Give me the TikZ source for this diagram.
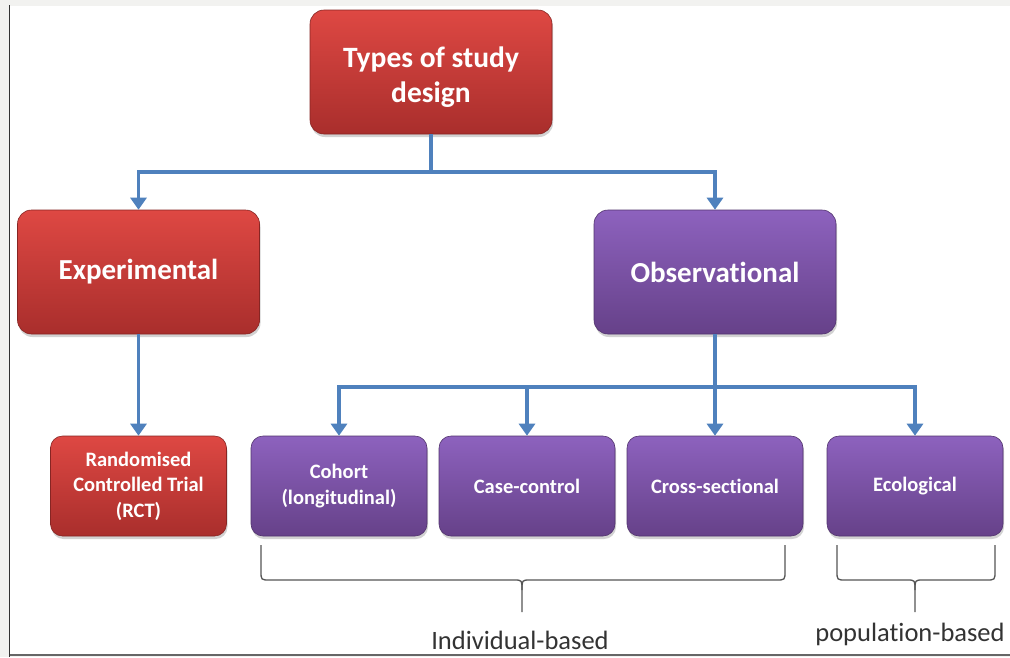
\documentclass[tikz,border=0pt]{standalone}
\usepackage{fontspec}
\setmainfont{Carlito}[Ligatures=NoCommon]
\usetikzlibrary{arrows.meta,shadows}
\definecolor{bgray}{HTML}{F2F2F0}
\definecolor{redtop}{HTML}{DE4843}
\definecolor{redbot}{HTML}{A92E2C}
\definecolor{purtop}{HTML}{8D62BE}
\definecolor{purbot}{HTML}{664189}
\definecolor{conn}{HTML}{4F81BD}
\definecolor{brace}{HTML}{555555}
\tikzset{
  box/.style={rounded corners=14pt, text=white, font=\bfseries, align=center, inner sep=2pt,
    drop shadow={opacity=0.35, shadow xshift=1pt, shadow yshift=-3pt}},
  redbox/.style={box, top color=redtop, bottom color=redbot, draw=redbot!80!black, line width=0.6pt},
  purbox/.style={box, top color=purtop, bottom color=purbot, draw=purbot!80!black, line width=0.6pt},
  bigbox/.style={minimum width=242pt, minimum height=124pt},
  smallbox/.style={minimum width=176pt, minimum height=100pt, rounded corners=12pt},
  smalltext/.style={font=\bfseries\fontsize{20.5}{25.5}\selectfont},
  line/.style={conn, line width=3.5pt},
  arr/.style={line, -{Triangle[length=12pt,width=16pt]}},
  bracestyle/.style={brace, line width=1.3pt},
  lab/.style={font=\fontsize{26.5}{30}\selectfont, text=black!80}
}
\begin{document}
\begin{tikzpicture}[x=1pt,y=-1pt]
\useasboundingbox (0,0) rectangle (1010,657);
\fill[bgray] (0,0) rectangle (1010,657);
\fill[white] (10,6) rectangle (1010,654);
\draw[black!80, line width=1.6pt] (9.5,5) -- (9.5,657);
\draw[black!60, line width=2pt] (10,655) -- (1010,655);

\node[redbox, bigbox, font=\bfseries\fontsize{29.5}{35}\selectfont] (top) at (431,72) {\rule{0pt}{30pt}Types of study\\design};
\node[redbox, bigbox, font=\bfseries\fontsize{29}{34}\selectfont] (exp) at (138.5,272) {Experimental};
\node[purbox, bigbox, font=\bfseries\fontsize{29}{34}\selectfont] (obs) at (715,272) {Observational};

\node[redbox, smallbox, smalltext] (rct) at (138.5,486) {Randomised\\Controlled Trial\\(RCT)};
\node[purbox, smallbox, smalltext] (coh) at (339,486) {Cohort\\(longitudinal)};
\node[purbox, smallbox, smalltext] (cc) at (527,486) {Case-control};
\node[purbox, smallbox, smalltext] (cs) at (715,486) {Cross-sectional};
\node[purbox, smallbox, smalltext] (eco) at (915,486) {Ecological};

\coordinate (j1) at (431,172);
\coordinate (j2) at (715,387);
\draw[line] (top.south) -- (j1);
\draw[arr] (j1) -| (exp.north);
\draw[arr] (j1) -| (obs.north);
\draw[arr] (exp.south) -- (rct.north);
\draw[arr] (obs.south) -- (cs.north);
\draw[arr] (j2) -| (coh.north);
\draw[arr] (j2) -| (cc.north);
\draw[arr] (j2) -| (eco.north);

% braces
\coordinate (b1l) at (261,545);
\coordinate (b1r) at (785,545);
\coordinate (b1t) at (522,612);
\draw[bracestyle] (b1l) -- (261,571) .. controls (261,580) .. (270,580) -- (514,580) .. controls (522,580) .. (522,590) -- (b1t);
\draw[bracestyle] (b1r) -- (785,571) .. controls (785,580) .. (776,580) -- (530,580) .. controls (522,580) .. (522,590);
\coordinate (b2l) at (837,545);
\coordinate (b2r) at (995,545);
\coordinate (b2t) at (915,612);
\draw[bracestyle] (b2l) -- (837,571) .. controls (837,580) .. (846,580) -- (907,580) .. controls (915,580) .. (915,590) -- (b2t);
\draw[bracestyle] (b2r) -- (995,571) .. controls (995,580) .. (986,580) -- (923,580) .. controls (915,580) .. (915,590);

\node[lab] (ind) at (520,640) {Individual-based};
\node[lab] (pop) at (910,634) {population-based};
\end{tikzpicture}
\end{document}
